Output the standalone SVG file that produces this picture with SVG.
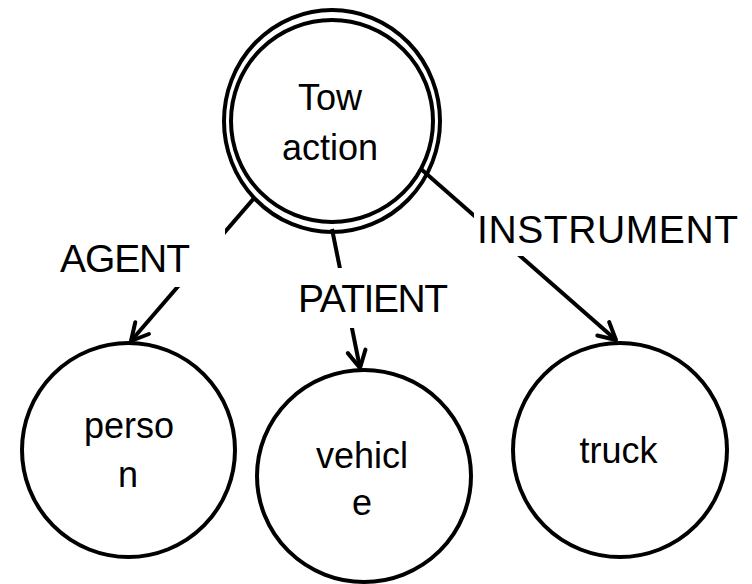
<svg xmlns="http://www.w3.org/2000/svg" width="752" height="584" viewBox="0 0 752 584">
  <style>
    .node { fill: #ffffff; stroke: #000000; stroke-width: 4; }
    .edge { fill: none; stroke: #000000; stroke-width: 4; }
    .txt { font-family: "Liberation Sans", Arial, sans-serif; font-size: 36px; fill: #000000; text-anchor: middle; }
    .lbl { font-family: "Liberation Sans", Arial, sans-serif; font-size: 39px; fill: #000000; text-anchor: middle; }
    .lblbg { fill: #ffffff; stroke: none; }
  </style>
  <defs>
    <marker id="arrow" markerUnits="userSpaceOnUse" viewBox="-22 -13 26 26" markerWidth="26" markerHeight="26" refX="0" refY="0" orient="auto">
      <path d="M -17,-9 L 0,0 L -17,9" fill="none" stroke="#000000" stroke-width="4" stroke-linecap="round" stroke-linejoin="round"/>
    </marker>
  </defs>

  <rect x="0" y="0" width="752" height="584" fill="#ffffff"/>

  <!-- nodes -->
  <g id="tow-action">
    <ellipse class="node" cx="332" cy="121" rx="108" ry="111"/>
    <ellipse class="node" cx="332" cy="121" rx="101" ry="101"/>
    <text class="txt" x="330" y="110">Tow</text>
    <text class="txt" x="330" y="160">action</text>
  </g>
  <g id="person">
    <ellipse class="node" cx="128.5" cy="450" rx="106.5" ry="107"/>
    <text class="txt" x="129" y="438">perso</text>
    <text class="txt" x="128" y="487">n</text>
  </g>
  <g id="vehicle">
    <ellipse class="node" cx="364" cy="476" rx="107" ry="106"/>
    <text class="txt" x="362" y="468">vehicl</text>
    <text class="txt" x="362" y="515">e</text>
  </g>
  <g id="truck">
    <ellipse class="node" cx="620" cy="450" rx="107" ry="107"/>
    <text class="txt" x="618.5" y="463">truck</text>
  </g>

  <!-- connectors -->
  <g id="connectors">
    <line class="edge" x1="255" y1="197" x2="131" y2="341" marker-end="url(#arrow)"/>
    <line class="edge" x1="332" y1="229" x2="360" y2="368" marker-end="url(#arrow)"/>
    <line class="edge" x1="421" y1="169" x2="616" y2="340" marker-end="url(#arrow)"/>

    <g id="label-agent">
      <rect class="lblbg" x="48" y="226" width="177" height="61"/>
      <text class="lbl" x="125" y="272" textLength="130">AGENT</text>
    </g>
    <g id="label-patient">
      <rect class="lblbg" x="290" y="268" width="165" height="60"/>
      <text class="lbl" x="373" y="312" textLength="150">PATIENT</text>
    </g>
    <g id="label-instrument">
      <rect class="lblbg" x="474" y="198" width="278" height="58"/>
      <text class="lbl" x="607.5" y="243" textLength="261">INSTRUMENT</text>
    </g>
  </g>
</svg>
